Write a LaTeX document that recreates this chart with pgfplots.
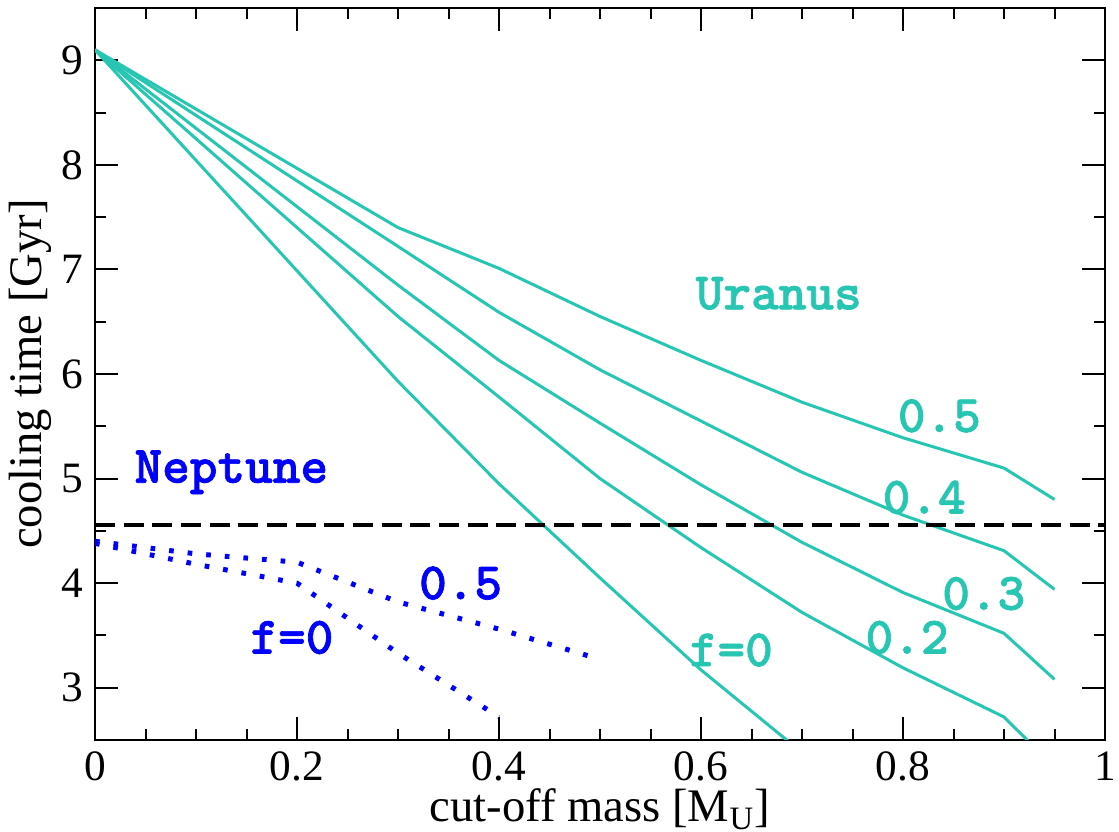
\documentclass[border=0pt]{standalone}
\usepackage{fontspec}
\setmainfont{Liberation Serif}
\newfontfamily\courb{lmmonolt10-bold.otf}[FakeBold=1.3]
\usepackage{pgfplots}
\pgfplotsset{compat=1.18}
\definecolor{ura}{RGB}{38,198,178}
\definecolor{nep}{RGB}{0,0,255}
\tikzset{lab/.style={font=\courb\fontsize{15.8}{17}\selectfont}}
\begin{document}
\begin{tikzpicture}
\begin{axis}[name=ax,
  scale only axis, width=303pt, height=219.6pt,
  xmin=0, xmax=1, ymin=2.5, ymax=9.5,
  xtick={0,0.2,0.4,0.6,0.8,1}, ytick={3,4,5,6,7,8,9},
  minor x tick num=3, minor y tick num=1,
  xticklabels={0,0.2,0.4,0.6,0.8,1},
  yticklabels={3,4,5,6,7,8,9},
  tick align=inside, tick pos=both,
  major tick length=6.8pt, minor tick length=3.4pt,
  axis line style={line width=0.8pt},
  every tick/.style={black, line width=0.6pt},
  tick label style={font=\rmfamily\fontsize{13}{15}\selectfont},
  /pgf/number format/assume math mode=true,
  xlabel={cut-off mass [M\textsubscript{U}]},
  ylabel={cooling time [Gyr]},
  label style={font=\rmfamily\fontsize{14}{16}\selectfont},
  xlabel style={yshift=4.5pt},
  ylabel style={yshift=-4pt},
  clip=true,
]
\addplot[ura, line width=0.9pt] coordinates {(0,9.10) (0.3,7.40) (0.4,7.01) (0.5,6.55) (0.6,6.13) (0.7,5.73) (0.8,5.39) (0.9,5.10) (0.95,4.80)};
\addplot[ura, line width=0.9pt] coordinates {(0,9.10) (0.3,7.22) (0.4,6.59) (0.5,6.04) (0.6,5.55) (0.7,5.06) (0.8,4.65) (0.9,4.31) (0.95,3.94)};
\addplot[ura, line width=0.9pt] coordinates {(0,9.10) (0.3,6.85) (0.4,6.13) (0.5,5.53) (0.6,4.94) (0.7,4.39) (0.8,3.91) (0.9,3.52) (0.95,3.08)};
\addplot[ura, line width=0.9pt] coordinates {(0,9.10) (0.3,6.55) (0.4,5.78) (0.5,5.00) (0.6,4.34) (0.7,3.72) (0.8,3.19) (0.9,2.72) (0.95,2.24)};
\addplot[ura, line width=0.9pt] coordinates {(0,9.10) (0.3,5.93) (0.4,4.95) (0.5,4.05) (0.6,3.17) (0.7,2.38)};
\addplot[black, line width=1.2pt, dash pattern=on 6pt off 2.6pt] coordinates {(0,4.56) (1,4.56)};
\addplot[nep, line width=1.5pt, dash pattern=on 1.4pt off 4.2pt] coordinates {(0,4.40) (0.1,4.28) (0.2,4.20) (0.3,3.82) (0.4,3.56) (0.49,3.30)};
\addplot[nep, line width=1.5pt, dash pattern=on 1.4pt off 4.2pt] coordinates {(0,4.38) (0.1,4.18) (0.2,4.00) (0.3,3.33) (0.4,2.72)};
\node[ura, lab] at (axis cs:0.677,6.77) {Uranus};
\node[ura, lab] at (axis cs:0.836,5.60) {0.5};
\node[ura, lab] at (axis cs:0.821,4.82) {0.4};
\node[ura, lab] at (axis cs:0.880,3.90) {0.3};
\node[ura, lab] at (axis cs:0.804,3.48) {0.2};
\node[ura, lab] at (axis cs:0.630,3.36) {f=0};
\node[nep, lab] at (axis cs:0.135,5.06) {Neptune};
\node[nep, lab] at (axis cs:0.362,4.00) {0.5};
\node[nep, lab] at (axis cs:0.195,3.48) {f=0};
\end{axis}
\pgfresetboundingbox
\path[use as bounding box] ([xshift=-28.5pt,yshift=-27.6pt]ax.south west) rectangle ([xshift=4.2pt,yshift=2.4pt]ax.north east);
\end{tikzpicture}
\end{document}
